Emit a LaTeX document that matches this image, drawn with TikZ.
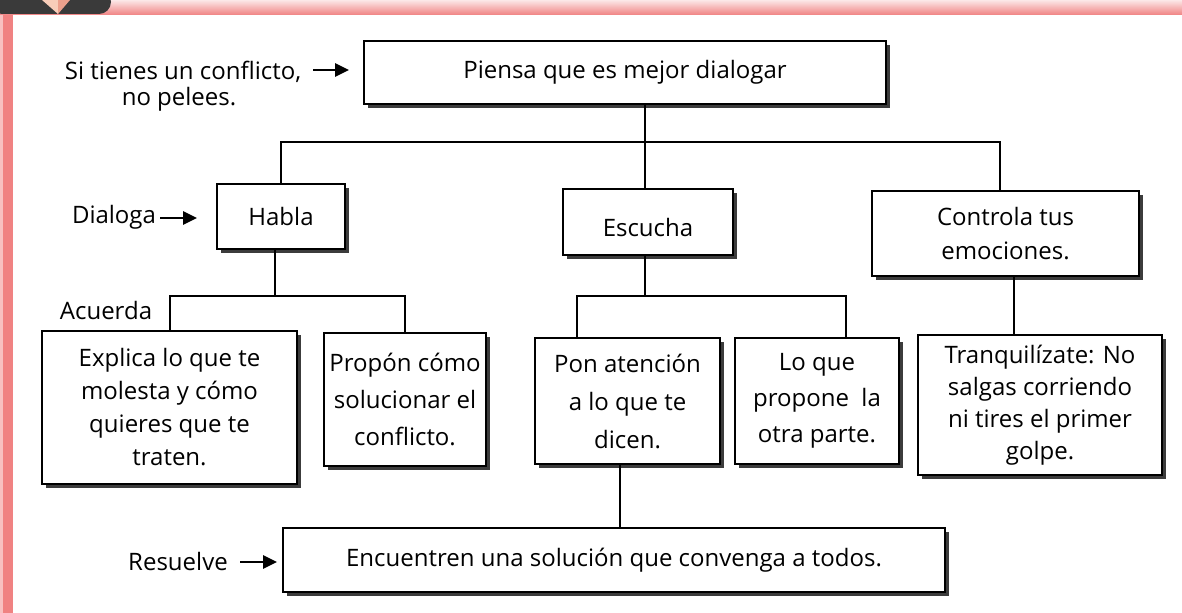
\documentclass[tikz,border=0pt]{standalone}
\usepackage{fontspec}
\setmainfont{Open Sans}
\usetikzlibrary{shadows,arrows.meta}
\definecolor{pinkband}{RGB}{240,130,130}
\definecolor{pinklight}{RGB}{252,232,232}
\definecolor{shadowc}{RGB}{60,60,60}
\definecolor{darktab}{RGB}{58,58,58}
\definecolor{peachA}{RGB}{248,205,185}
\definecolor{peachB}{RGB}{236,160,140}
\begin{document}
\begin{tikzpicture}[x=0.5pt,y=-0.5pt,
  font=\fontsize{12}{16.5}\selectfont,
  box/.style={draw, line width=1pt, fill=white, align=center, inner sep=2pt,
    drop shadow={shadow xshift=2pt,shadow yshift=-2pt,fill=shadowc,opacity=1}},
  conn/.style={line width=1pt},
  arr/.style={line width=1.4pt,-{Triangle[length=7pt,width=6.5pt]}},
  lbl/.style={inner sep=0pt}]
\useasboundingbox (0,0) rectangle (1182,613);
\fill[white] (0,0) rectangle (1182,613);
% decorative frame
\shade[top color=pinklight,bottom color=pinkband] (0,0) rectangle (1182,15);
\fill[pinkband] (3,15) rectangle (13,613);
\fill[pinkband!50] (0,15) rectangle (3,613);
\fill[darktab,rounded corners=6pt] (-10,-10) rectangle (111,14);
\fill[peachA] (42,0) -- (58,0) -- (58,14) -- cycle;
\fill[peachB] (58,0) -- (70,0) -- (58,14) -- cycle;

% boxes
\node[box, minimum width=261pt, minimum height=31.5pt] (piensa) at (625,72.5) {Piensa que es mejor dialogar};
\node[box, minimum width=64pt, minimum height=32.5pt] (habla) at (281,216.5) {Habla};
\node[box, minimum width=85pt, minimum height=33pt, label={[lbl,yshift=-3pt]center:Escucha}] (escucha) at (648,222) {};
\node[box, minimum width=133.5pt, minimum height=42.5pt, font=\fontsize{12}{17}\selectfont] (controla) at (1005.5,234) {Controla tus\\emociones.};
\node[box, minimum width=127.5pt, minimum height=76.5pt] (explica) at (169.5,407.5) {Explica lo que te\\molesta y cómo\\quieres que te\\traten.};
\node[box, minimum width=81pt, minimum height=66.5pt, font=\fontsize{12}{18.5}\selectfont] (propon) at (405,399.5) {Propón cómo\\solucionar el\\conflicto.};
\node[box, minimum width=92.5pt, minimum height=63pt, font=\fontsize{12}{19}\selectfont] (pon) at (627.5,401) {Pon atención\\a lo que te\\dicen.};
\node[box, minimum width=82pt, minimum height=63pt, font=\fontsize{12}{18}\selectfont] (loque) at (817,401) {Lo que\\propone\ \ la\\otra parte.};
\node[box, minimum width=122pt, minimum height=70pt, font=\fontsize{12}{16}\selectfont] (tranq) at (1040,405) {Tranquilízate: No\\salgas corriendo\\ni tires el primer\\golpe.};
\node[box, minimum width=331pt, minimum height=32pt] (encuentren) at (614,560) {Encuentren una solución que convenga a todos.};

% side labels
\node[lbl] (si1) at (183,72) {Si tienes un conflicto,};
\node[lbl] (si2) at (179,99) {no pelees.};
\node[lbl] (dialoga) at (114,217) {Dialoga};
\node[lbl] (acuerda) at (106,311) {Acuerda};
\node[lbl] (resuelve) at (178,562) {Resuelve};

\coordinate (a1) at (313,70);
\coordinate (a2) at (160,218);
\coordinate (a3) at (240,562);
\draw[arr, shorten >=7pt] (a1) -- (a1 -| piensa.west);
\draw[arr, shorten >=9.5pt] (a2) -- (a2 -| habla.west);
\draw[arr, shorten >=2.5pt] (a3) -- (a3 -| encuentren.west);

% connectors
\coordinate (jt) at (645,142);
\coordinate (ja) at (275,296);
\coordinate (jb) at (645,296);
\draw[conn] (piensa.south -| jt) -- (jt);
\draw[conn] (habla.north) |- (jt);
\draw[conn] (jt) -| ([xshift=-2.75pt]controla.north);
\draw[conn] (jt) -- (jt |- escucha.north);
\draw[conn] ([xshift=-3pt]habla.south) -- (ja);
\draw[conn] (explica.north) |- (ja) -| (propon.north);
\draw[conn] (escucha.south -| jb) -- (jb);
\draw[conn] ([xshift=-25.25pt]pon.north) |- (jb) -| ([xshift=14.5pt]loque.north);
\draw[conn] ([xshift=-3.75pt]pon.south) -- ([xshift=-3.75pt]pon.south |- encuentren.north);
\draw[conn] ([xshift=4.25pt]controla.south) -- ([xshift=4.25pt]controla.south |- tranq.north);
\end{tikzpicture}
\end{document}
